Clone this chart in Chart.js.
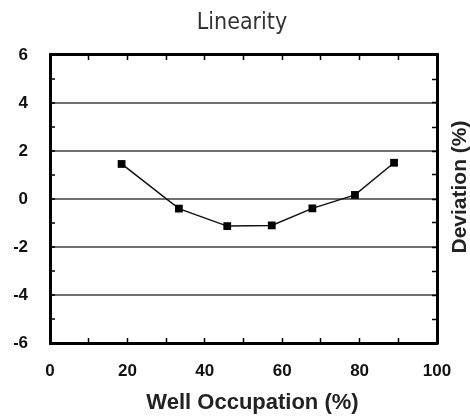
<!DOCTYPE html>
<html>
<head>
<meta charset="utf-8">
<title>Linearity</title>
<script src="https://cdn.jsdelivr.net/npm/chart.js@4/dist/chart.umd.min.js"></script>
<style>
    html, body { margin: 0; padding: 0; background: #fff; }
    canvas { display: block; }
</style>
</head>
<body>
<canvas id="linearity-chart" width="470" height="417"></canvas>
<script>
// values
const occupation = [18.5, 33.3, 45.8, 57.3, 67.8, 78.8, 88.9];
const deviation = [1.46, -0.40, -1.13, -1.10, -0.39, 0.17, 1.51];
const xTicks = [0, 20, 40, 60, 80, 100];
const yTicks = [-6, -4, -2, 0, 2, 4, 6];
const yGridLines = [-4, -2, 0, 2, 4];

const labelFont = { family: "'Liberation Sans', Arial, sans-serif", size: 17, weight: 'bold' };

// axis titles sit off-centre in the original (and the right one reads upwards), so they are drawn here
const axisTitles = {
    id: 'axisTitles',
    afterDraw(chart) {
        const { ctx, chartArea } = chart;
        ctx.save();
        ctx.fillStyle = '#222';
        ctx.textAlign = 'center';
        ctx.textBaseline = 'middle';
        ctx.font = "bold 22px 'Liberation Sans', Arial, sans-serif";
        ctx.fillText('Well Occupation (%)', (chartArea.left + chartArea.right) / 2 + 9, 403);
        ctx.translate(460, (chartArea.top + chartArea.bottom) / 2 - 12);
        ctx.rotate(-Math.PI / 2);
        ctx.font = "bold 21px 'Liberation Sans', Arial, sans-serif";
        ctx.fillText('Deviation (%)', 0, 0);
        ctx.restore();
    }
};

const innerTicks = {
    tickLength: -5,
    tickWidth: 1.5,
    tickColor: '#000'
};

new Chart('linearity-chart', {
    type: 'scatter',
    data: {
        datasets: [{
            data: occupation.map((x, i) => ({ x: x, y: deviation[i] })),
            showLine: true,
            borderColor: '#111',
            borderWidth: 1.5,
            tension: 0,
            pointStyle: 'rect',
            pointRadius: 5.5,
            pointBackgroundColor: '#000',
            pointBorderColor: '#000',
            pointBorderWidth: 0
        }]
    },
    plugins: [axisTitles],
    options: {
        responsive: false,
        animation: false,
        devicePixelRatio: 1,
        layout: { padding: { left: 14, right: 0, top: 0, bottom: 0 } },
        plugins: {
            legend: { display: false },
            tooltip: { enabled: false },
            title: {
                display: true,
                text: 'Linearity',
                color: '#333',
                font: { family: "'Liberation Sans Narrow', 'DejaVu Sans Condensed', sans-serif", size: 23, weight: 'normal' },
                padding: { top: 9, bottom: 0 }
            }
        },
        scales: {
            x: {
                type: 'linear',
                position: 'bottom',
                min: 0,
                max: 100,
                afterFit: s => { s.height = 74; s.paddingLeft = 0; s.paddingRight = 0; },
                border: { color: '#000', width: 3 },
                grid: { drawOnChartArea: false, ...innerTicks },
                ticks: {
                    stepSize: 10,
                    autoSkip: false,
                    maxRotation: 0,
                    padding: 23,
                    color: '#111',
                    font: labelFont,
                    callback: v => xTicks.includes(v) ? v : ''
                }
            },
            x2: {
                type: 'linear',
                position: 'top',
                min: 0,
                max: 100,
                afterFit: s => { s.height = 18.4; },
                border: { color: '#000', width: 3 },
                grid: { drawOnChartArea: false, ...innerTicks },
                ticks: { stepSize: 10, autoSkip: false, display: false }
            },
            y: {
                position: 'left',
                min: -6,
                max: 6,
                afterFit: s => { s.width = 36; },
                border: { color: '#000', width: 3 },
                grid: {
                    ...innerTicks,
                    lineWidth: 2,
                    color: c => yGridLines.includes(c.tick && c.tick.value) ? '#707070' : 'rgba(0,0,0,0)'
                },
                ticks: {
                    stepSize: 1,
                    autoSkip: false,
                    padding: 27,
                    color: '#111',
                    font: labelFont,
                    callback: v => yTicks.includes(v) ? v : ''
                }
            },
            y2: {
                position: 'right',
                min: -6,
                max: 6,
                afterFit: s => { s.width = 33; },
                border: { color: '#000', width: 3 },
                grid: { drawOnChartArea: false, ...innerTicks },
                ticks: { stepSize: 1, autoSkip: false, display: false }
            }
        }
    }
});
</script>
</body>
</html>
